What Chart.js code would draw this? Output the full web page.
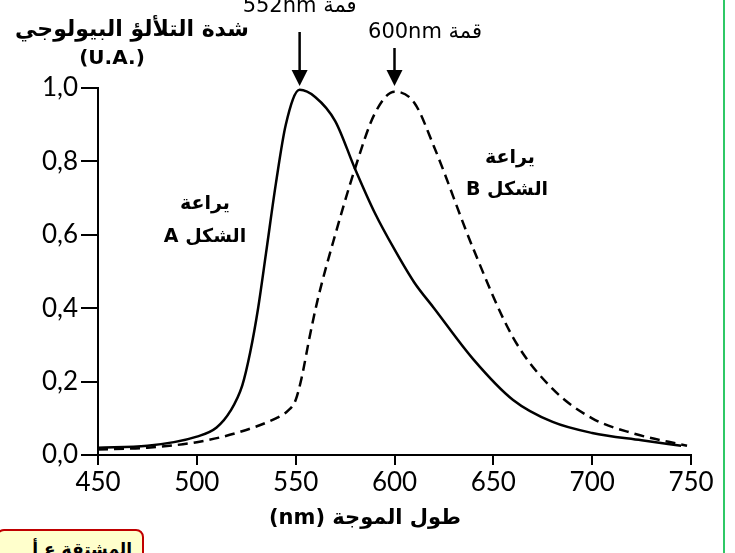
<!DOCTYPE html>
<html>
<head>
<meta charset="utf-8">
<script src="https://cdn.jsdelivr.net/npm/chart.js@4.4.0/dist/chart.umd.min.js"></script>
<style>
  html, body { margin: 0; padding: 0; background: #fff; }
  #wrap { position: relative; width: 735px; height: 553px; overflow: hidden; }
  #greenLine { position: absolute; left: 723px; top: 0; width: 2px; height: 553px; background: #2fc866; }
  #note { position: absolute; left: -4px; top: 529px; width: 148px; height: 34px; background: #ffffcc;
          border: 2px solid #c00000; border-radius: 8px; box-sizing: border-box;
          font: bold 17px "DejaVu Sans", sans-serif; direction: rtl; padding: 8px 10px 0 0; color: #000; }
</style>
</head>
<body>
<div id="wrap">
  <canvas id="chart" width="735" height="553"></canvas>
  <div id="greenLine"></div>
  <div id="note">المشتقة ع أ</div>
</div>
<script>
// wavelengths (nm) and relative intensity
const wlA = [450, 475, 500, 510, 517, 523, 527, 531, 535, 540, 545, 552, 560, 570, 580, 590, 600, 610, 620, 640, 660, 680, 700, 725, 745];
const fireflyA = [0.02, 0.025, 0.05, 0.075, 0.12, 0.19, 0.28, 0.4, 0.55, 0.74, 0.9, 0.995, 0.975, 0.91, 0.78, 0.66, 0.56, 0.47, 0.4, 0.26, 0.15, 0.09, 0.06, 0.04, 0.025];

const wlB = [450, 475, 500, 520, 540, 546, 550, 553, 557, 561, 570, 580, 590, 600, 610, 620, 640, 660, 680, 700, 720, 748];
const fireflyB = [0.015, 0.02, 0.035, 0.06, 0.1, 0.12, 0.15, 0.21, 0.32, 0.42, 0.6, 0.78, 0.93, 0.99, 0.96, 0.84, 0.56, 0.32, 0.18, 0.1, 0.06, 0.025];

const xTicks = [450, 500, 550, 600, 650, 700, 750];
const yTicks = [0, 0.2, 0.4, 0.6, 0.8, 1.0];
const peaks = [552, 600];

const arabic = '"DejaVu Sans", sans-serif';
const numFont = 'Lato';

const toPoints = (xs, ys) => xs.map((x, i) => ({ x: x, y: ys[i] }));

// titles, arrows and curve labels
const decorations = {
  id: 'decorations',
  afterDraw(chart) {
    const ctx = chart.ctx;
    const xs = chart.scales.x;
    ctx.save();
    ctx.fillStyle = '#000';
    ctx.strokeStyle = '#000';
    ctx.textBaseline = 'middle';

    // y title
    ctx.direction = 'rtl';
    ctx.textAlign = 'center';
    ctx.font = 'bold 22px ' + arabic;
    ctx.fillText('شدة التلألؤ البيولوجي', 132, 30);
    ctx.direction = 'ltr';
    ctx.font = 'bold 20px ' + arabic;
    ctx.fillText('(U.A.)', 112, 59);

    // x title
    ctx.direction = 'rtl';
    ctx.font = 'bold 21px ' + arabic;
    ctx.fillText('طول الموجة (nm)', 365, 519);

    // peak labels
    ctx.font = '21px ' + arabic;
    ctx.fillText('قمة 552nm', xs.getPixelForValue(peaks[0]), 7);
    ctx.fillText('قمة 600nm', 425, 33);

    // arrows
    const arrow = (x, y0, y1) => {
      ctx.lineWidth = 2.5;
      ctx.beginPath();
      ctx.moveTo(x, y0);
      ctx.lineTo(x, y1 - 14);
      ctx.stroke();
      ctx.beginPath();
      ctx.moveTo(x - 8, y1 - 16);
      ctx.lineTo(x + 8, y1 - 16);
      ctx.lineTo(x, y1);
      ctx.closePath();
      ctx.fill();
    };
    arrow(xs.getPixelForValue(peaks[0]), 32, 86);
    arrow(xs.getPixelForValue(peaks[1]), 48, 86);

    // curve labels
    ctx.font = 'bold 19px ' + arabic;
    ctx.fillText('يراعة', 205, 204);
    ctx.fillText('الشكل A', 205, 237);
    ctx.fillText('يراعة', 510, 158);
    ctx.fillText('الشكل B', 507, 190);
    ctx.restore();
  }
};

const ctx = document.getElementById('chart').getContext('2d');
new Chart(ctx, {
  type: 'line',
  data: {
    datasets: [
      {
        label: 'A',
        data: toPoints(wlA, fireflyA),
        borderColor: '#000',
        borderWidth: 2.5,
        pointRadius: 0,
        cubicInterpolationMode: 'monotone',
        fill: false
      },
      {
        label: 'B',
        data: toPoints(wlB, fireflyB),
        borderColor: '#000',
        borderWidth: 2.5,
        borderDash: [10, 6],
        pointRadius: 0,
        cubicInterpolationMode: 'monotone',
        fill: false
      }
    ]
  },
  options: {
    responsive: false,
    animation: false,
    layout: { padding: { top: 88, right: 44, left: 0, bottom: 0 } },
    plugins: { legend: { display: false }, tooltip: { enabled: false } },
    scales: {
      x: {
        type: 'linear',
        min: 450,
        max: 750,
        afterBuildTicks: s => { s.ticks = xTicks.map(v => ({ value: v })); },
        afterFit: s => { s.height = 553 - 455; },
        border: { display: true, color: '#000', width: 2 },
        grid: { drawOnChartArea: false, drawTicks: true, tickLength: 10, color: '#000', lineWidth: 2 },
        ticks: { color: '#000', font: { family: numFont, size: 26 }, padding: 2, maxRotation: 0 }
      },
      y: {
        min: 0,
        max: 1,
        afterBuildTicks: s => { s.ticks = yTicks.map(v => ({ value: v })); },
        afterFit: s => { s.width = 98; },
        border: { display: true, color: '#000', width: 2 },
        grid: { drawOnChartArea: false, drawTicks: true, tickLength: 17, color: '#000', lineWidth: 2 },
        ticks: {
          color: '#000',
          font: { family: numFont, size: 26 },
          padding: 3,
          callback: v => v.toFixed(1).replace('.', ',')
        }
      }
    }
  },
  plugins: [decorations]
});
</script>
</body>
</html>
